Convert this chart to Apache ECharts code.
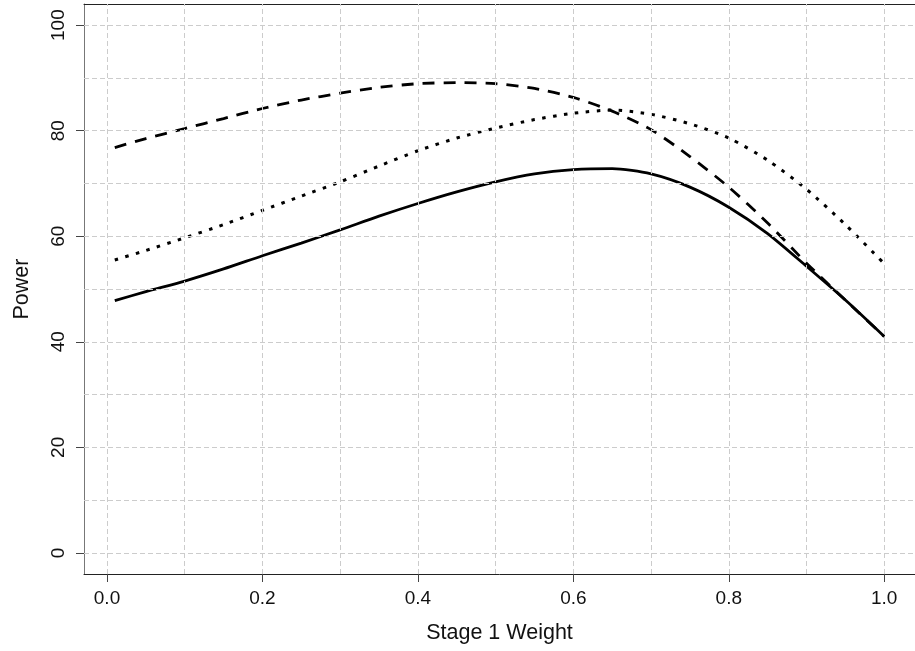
<!DOCTYPE html>
<html>
<head>
<meta charset="utf-8">
<script src="https://cdn.jsdelivr.net/npm/echarts@6/dist/echarts.min.js"></script>
<style>
html,body{margin:0;padding:0;background:#fff;}
#chart{width:915px;height:651px;}
</style>
</head>
<body>
<div id="chart"></div>
<script>
// ---- data ----
const weights = [0.01, 0.05, 0.10, 0.15, 0.20, 0.25, 0.30, 0.35, 0.40, 0.45, 0.50,
                 0.55, 0.60, 0.65, 0.70, 0.75, 0.80, 0.85, 0.90, 0.95, 1.00];
const powerSolid  = [47.8, 49.5, 51.5, 53.8, 56.3, 58.7, 61.2, 63.8, 66.2, 68.4, 70.3,
                     71.8, 72.6, 72.8, 71.8, 69.3, 65.5, 60.5, 54.3, 47.9, 41.0];
const powerDashed = [76.8, 78.5, 80.4, 82.3, 84.2, 85.8, 87.1, 88.2, 88.9, 89.1, 88.9,
                     88.0, 86.3, 83.7, 80.2, 75.1, 69.3, 62.5, 54.9, 47.9, 41.0];
const powerDotted = [55.5, 57.3, 59.7, 62.2, 64.9, 67.6, 70.3, 73.3, 76.2, 78.6, 80.5,
                     82.1, 83.3, 83.9, 83.1, 81.3, 78.6, 74.4, 68.9, 62.2, 54.8];
const xTickValues = [0, 0.2, 0.4, 0.6, 0.8, 1.0];
const yTickValues = [0, 20, 40, 60, 80, 100];
const xGridValues = [0, 0.1, 0.2, 0.3, 0.4, 0.5, 0.6, 0.7, 0.8, 0.9, 1.0];
const yGridValues = [0, 10, 20, 30, 40, 50, 60, 70, 80, 90, 100];
const xLabel = 'Stage 1 Weight';
const yLabel = 'Power';

const pairs = ys => weights.map((w, i) => [w, ys[i]]);
const FONT = '"Liberation Sans", Arial, sans-serif';

const gridLines = xGridValues.map(v => ({xAxis: v})).concat(yGridValues.map(v => ({yAxis: v})));

const chart = echarts.init(document.getElementById('chart'), null, {renderer: 'canvas'});
chart.setOption({
  animation: false,
  backgroundColor: '#ffffff',
  grid: {left: 84, top: 4, width: 834, height: 570, show: false},
  xAxis: [{
    type: 'value', min: -0.0296, max: 1.0396, position: 'bottom',
    name: xLabel, nameLocation: 'middle', nameGap: 48,
    nameTextStyle: {fontFamily: FONT, fontSize: 21.5, color: '#111'},
    axisLine: {show: true, onZero: false, lineStyle: {color: '#222', width: 1}},
    axisTick: {show: true, length: 8, customValues: xTickValues, lineStyle: {color: '#444'}},
    axisLabel: {show: true, customValues: xTickValues, margin: 15, fontFamily: FONT, fontSize: 19, color: '#111',
                formatter: v => Number(v).toFixed(1)},
    splitLine: {show: false}
  }, {
    type: 'value', min: -0.0296, max: 1.0396, position: 'top',
    axisLine: {show: true, onZero: false, lineStyle: {color: '#222', width: 1}},
    axisTick: {show: false}, axisLabel: {show: false}, splitLine: {show: false}
  }],
  yAxis: {
    type: 'value', min: -4, max: 104,
    name: yLabel, nameLocation: 'middle', nameGap: 51,
    nameTextStyle: {fontFamily: FONT, fontSize: 21.5, color: '#111'},
    axisLine: {show: true, onZero: false, lineStyle: {color: '#777', width: 1}},
    axisTick: {show: true, length: 8, customValues: yTickValues, lineStyle: {color: '#444'}},
    axisLabel: {show: true, customValues: yTickValues, rotate: 90, margin: 16, fontFamily: FONT, fontSize: 19, color: '#111'},
    splitLine: {show: false}
  },
  series: [
    {
      type: 'line', data: [[0, 0]], showSymbol: false, silent: true, z: 1,
      lineStyle: {opacity: 0},
      markLine: {
        silent: true, symbol: 'none', animation: false,
        label: {show: false},
        lineStyle: {color: '#cccccc', width: 1, type: [5, 3]},
        data: gridLines
      }
    },
    {
      type: 'line', data: pairs(powerDashed), showSymbol: false, smooth: 0.25, z: 3,
      lineStyle: {color: '#000', width: 2.8, type: [12, 9]}
    },
    {
      type: 'line', data: pairs(powerDotted), showSymbol: false, smooth: 0.25, z: 3,
      lineStyle: {color: '#000', width: 3, type: [3.5, 7.5]}
    },
    {
      type: 'line', data: pairs(powerSolid), showSymbol: false, smooth: 0.25, z: 3,
      lineStyle: {color: '#000', width: 2.8}
    }
  ]
});
</script>
</body>
</html>
